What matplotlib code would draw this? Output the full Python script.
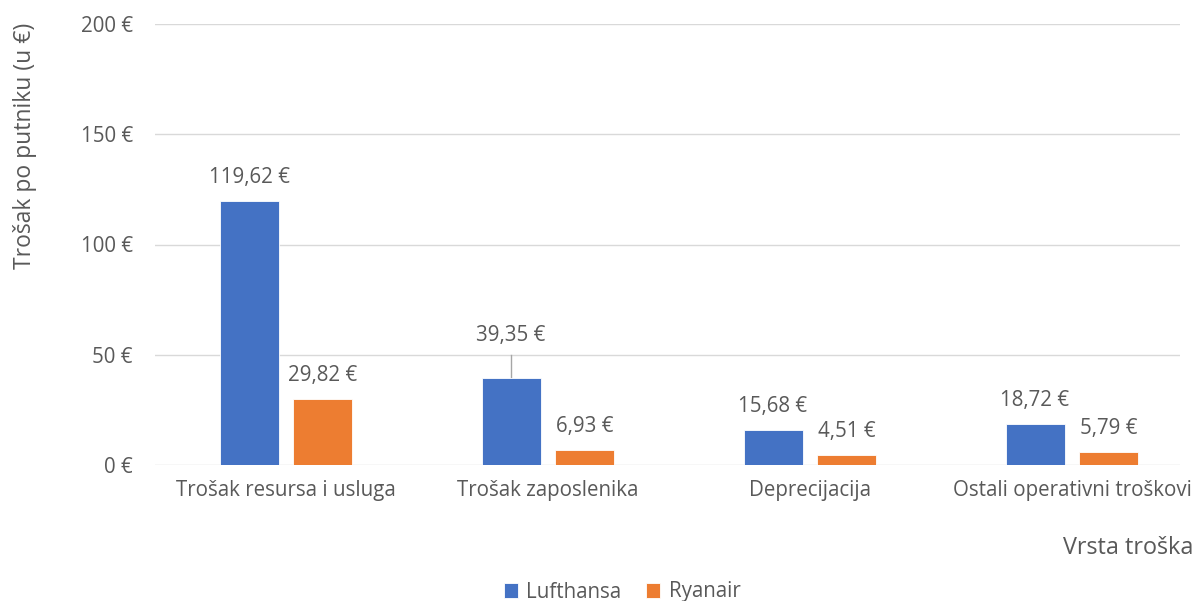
import matplotlib
matplotlib.use("Agg")
import matplotlib.pyplot as plt
import numpy as np

categories = ["Trošak resursa i usluga", "Trošak zaposlenika", "Deprecijacija", "Ostali operativni troškovi"]
lufthansa = [119.62, 39.35, 15.68, 18.72]
ryanair = [29.82, 6.93, 4.51, 5.79]
yticks = [0, 50, 100, 150, 200]

plt.rcParams['font.family'] = ['Open Sans', 'DejaVu Sans']
TXT = '#595959'
BLUE = '#4472C4'
ORANGE = '#ED7D31'
FS = 14.8

fig = plt.figure(figsize=(11.95, 6.01), dpi=100)
ax = fig.add_axes([155/1195, 1-465/601, (1180-155)/1195, (465-24)/601])

x = np.arange(len(categories))
w = 0.225
off = 0.141
b1 = ax.bar(x - off, lufthansa, w, color=BLUE, label='Lufthansa', zorder=3,
            edgecolor='white', linewidth=0.6)
b2 = ax.bar(x + off, ryanair, w, color=ORANGE, label='Ryanair', zorder=3,
            edgecolor='white', linewidth=0.6)

def fmt(v):
    return f"{v:.2f}".replace('.', ',') + " €"

for i, (xi, v) in enumerate(zip(x - off, lufthansa)):
    if i == 1:
        ax.annotate(fmt(v), (xi, 58.6), ha='center', va='center', fontsize=FS, color=TXT)
        ax.plot([xi, xi], [v, 50], color='#A6A6A6', lw=1, zorder=2)
    else:
        ax.annotate(fmt(v), (xi, v), xytext=(0, 17), textcoords='offset points',
                    ha='center', va='center', fontsize=FS, color=TXT)
for xi, v in zip(x + off, ryanair):
    ax.annotate(fmt(v), (xi, v), xytext=(0, 17), textcoords='offset points',
                ha='center', va='center', fontsize=FS, color=TXT)

ax.set_xlim(-0.5, -0.5 + 1025/262)
ax.set_ylim(0, 200)
ax.set_yticks(yticks)
ax.set_yticklabels([f"{t} €" for t in yticks], fontsize=FS, color=TXT)
ax.set_xticks(x)
ax.set_xticklabels(categories, fontsize=FS, color=TXT)
ax.tick_params(axis='both', length=0)
ax.tick_params(axis='y', pad=16)
ax.tick_params(axis='x', pad=11)
ax.grid(axis='y', color='#D9D9D9', lw=1, zorder=0)
for s in ax.spines.values():
    s.set_visible(False)

fig.text(25/1195, 1-146/601, "Trošak po putniku (u €)", rotation=90, ha='center', va='center',
         fontsize=16.5, color=TXT)
fig.text(1193/1195, 1-548/601, "Vrsta troška", ha='right', va='center', fontsize=16.8, color=TXT)

fig.legend(handles=[b1, b2], loc='center', bbox_to_anchor=(622/1195, 1-592/601), ncol=2,
           frameon=False, fontsize=FS, handlelength=0.7, handleheight=0.7,
           columnspacing=1.2, handletextpad=0.4, labelcolor=TXT)

fig.savefig('out.png', dpi=100)
